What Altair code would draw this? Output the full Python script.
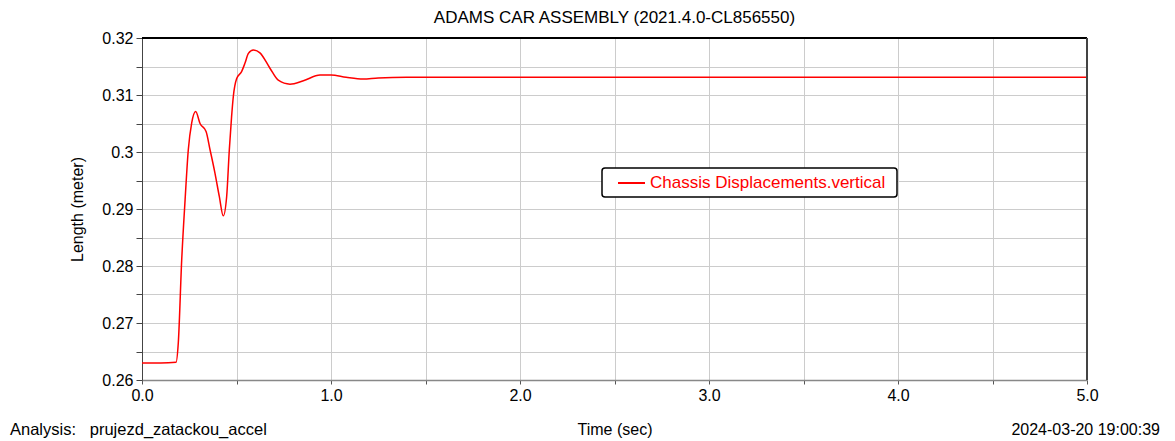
import altair as alt
import pandas as pd

# Chassis vertical displacement over time
time_s = [0.0, 0.10, 0.18, 0.192, 0.21, 0.228, 0.245, 0.263, 0.284, 0.307, 0.339,
          0.36, 0.386, 0.409, 0.43, 0.448, 0.462, 0.474, 0.483, 0.501, 0.527,
          0.545, 0.563, 0.589, 0.624, 0.677, 0.721, 0.783, 0.854, 0.942, 1.0,
          1.08, 1.17, 1.25, 1.40, 2.0, 3.0, 4.0, 5.0]
length_m = [0.2630, 0.2630, 0.2631, 0.2665, 0.2810, 0.2916, 0.3004, 0.3051, 0.3071,
            0.3050, 0.3036, 0.3004, 0.2963, 0.2922, 0.2888, 0.2922, 0.3004, 0.3062,
            0.3097, 0.3129, 0.3141, 0.3156, 0.3173, 0.3179, 0.3174, 0.3147, 0.3126,
            0.3119, 0.3125, 0.3135, 0.3135, 0.3131, 0.3128, 0.3130, 0.3131, 0.3131,
            0.3131, 0.3131, 0.3131]
series_name = "Chassis Displacements.vertical"

x_ticks = [i * 0.5 for i in range(11)]
y_ticks = [round(0.26 + i * 0.005, 3) for i in range(13)]

title_text = "ADAMS CAR ASSEMBLY (2021.4.0-CL856550)"
analysis_text = "Analysis:\u00a0\u00a0 prujezd_zatackou_accel"
stamp_text = "2024-03-20 19:00:39"

FONT = "Liberation Sans"
RED = "#ff0000"
W, H = 945, 342

df = pd.DataFrame({"t": time_s, "v": length_m, "series": series_name})

line = alt.Chart(df).mark_line(strokeWidth=1.5, interpolate="monotone").encode(
    x=alt.X("t:Q", title="Time (sec)",
            scale=alt.Scale(domain=[0, 5], nice=False, zero=False),
            axis=alt.Axis(values=x_ticks,
                          labelExpr="datum.value % 1 == 0 ? format(datum.value, '.1f') : ''",
                          labelFlush=False,
                          grid=True, gridColor="#cccccc", domainColor="#888888",
                          domainWidth=1.5, tickColor="#555555", tickSize=4,
                          labelPadding=3, titlePadding=18)),
    y=alt.Y("v:Q", title="Length (meter)",
            scale=alt.Scale(domain=[0.26, 0.32], nice=False, zero=False),
            axis=alt.Axis(values=y_ticks,
                          labelExpr="abs(datum.value * 100 - round(datum.value * 100)) < 1e-6 ? format(datum.value, '.2~f') : ''",
                          labelFlush=False,
                          grid=True, gridColor="#cccccc", domainColor="#444444",
                          tickColor="#444444", tickSize=6, labelPadding=3,
                          titlePadding=16)),
    color=alt.Color("series:N", scale=alt.Scale(range=[RED]), legend=None),
)

# Series key: framed box with a line sample and the series name
key_df = pd.DataFrame({"series": [series_name]})
key_box = alt.Chart(key_df).mark_rect(
    fill="#ffffff", stroke="#000000", strokeWidth=1.5, cornerRadius=3
).encode(x=alt.value(460), x2=alt.value(755), y=alt.value(130), y2=alt.value(159))
key_line = alt.Chart(key_df).mark_rule(color=RED, strokeWidth=2).encode(
    x=alt.value(476), x2=alt.value(503), y=alt.value(145))
key_text = alt.Chart(key_df).mark_text(
    font=FONT, fontSize=17, color=RED, align="left", baseline="middle"
).encode(text="series:N", x=alt.value(508), y=alt.value(145))

top_rule = alt.Chart(df).mark_rule(color="#000000", strokeWidth=2).encode(
    x=alt.value(0), x2=alt.value(W), y=alt.value(0))
right_rule = alt.Chart(df).mark_rule(color="#444444", strokeWidth=1.5).encode(
    x=alt.value(W), y=alt.value(0), y2=alt.value(H))

notes = pd.DataFrame({"label": [title_text, analysis_text, stamp_text],
                      "px": [W / 2, -132, 1018],
                      "py": [-20, 392, 392],
                      "al": ["center", "left", "right"],
                      "fs": [17, 16.5, 16]})

def note(i):
    row = notes.iloc[i]
    return alt.Chart(notes.iloc[[i]]).mark_text(
        font=FONT, fontSize=float(row["fs"]), color="#000000", align=row["al"],
        baseline="middle"
    ).encode(text="label:N", x=alt.value(float(row["px"])), y=alt.value(float(row["py"])))

chart = alt.layer(line, top_rule, right_rule, key_box, key_line, key_text,
                  note(0), note(1), note(2)).properties(
    width=W, height=H,
    autosize=alt.AutoSizeParams(type="none"),
    padding={"left": 142, "top": 38, "right": 88, "bottom": 61},
).configure_view(stroke=None).configure_axis(
    labelFont=FONT, titleFont=FONT, labelFontSize=16, titleFontSize=16,
    titleFontWeight="normal", labelColor="#000000", titleColor="#000000",
)

chart.save("out.html", embed_options={"renderer": "svg", "actions": False})
